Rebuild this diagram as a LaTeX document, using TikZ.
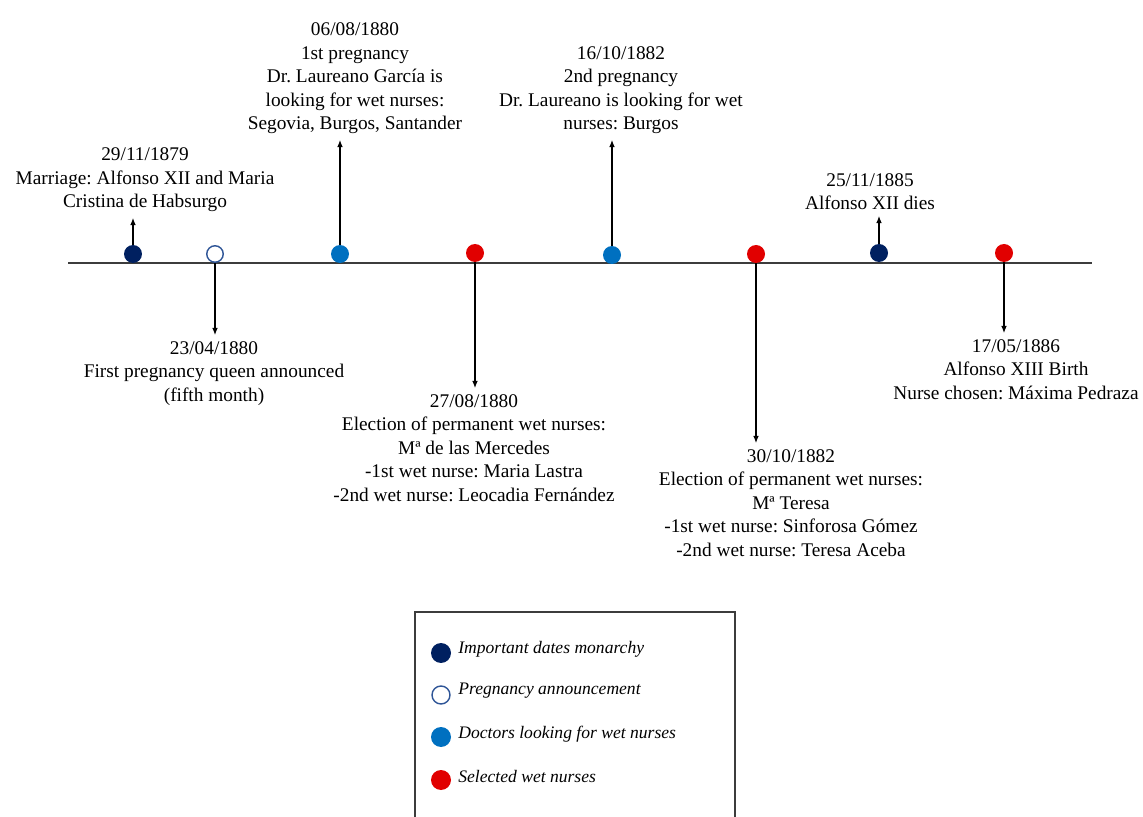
\documentclass[tikz,border=0pt]{standalone}
\usepackage{fontspec}
\setmainfont{Liberation Serif}
\usepackage{tikz}
\usetikzlibrary{arrows.meta}
\definecolor{navy}{RGB}{0,32,96}
\definecolor{docblue}{RGB}{0,112,192}
\definecolor{nursered}{RGB}{225,0,0}
\definecolor{ringblue}{RGB}{47,85,151}
\definecolor{axisgray}{RGB}{60,60,60}
\frenchspacing
\begin{document}
\begin{tikzpicture}[x=0.02cm,y=-0.02cm]
            \tikzstyle{monarchy}=[circle, fill=navy, inner sep=0pt, minimum size=3.6mm]
            \tikzstyle{announce}=[circle, draw=ringblue, line width=0.8pt, fill=white, inner sep=0pt, minimum size=3.3mm]
            \tikzstyle{doctor}=[circle, fill=docblue, inner sep=0pt, minimum size=3.6mm]
            \tikzstyle{selected}=[circle, fill=nursered, inner sep=0pt, minimum size=3.6mm]
            \tikzstyle{eventtext}=[align=center, inner sep=0pt, outer sep=3.5pt, font=\fontsize{11}{13.4}\selectfont]
            \tikzstyle{keytext}=[anchor=west, inner sep=0pt, font=\fontsize{10}{12}\selectfont\itshape]
            \tikzstyle{pointer}=[-{Latex[length=4pt,width=3.2pt]}, line width=0.6pt]
            \useasboundingbox (0,0) rectangle (1143,817);
            % time axis
            \coordinate (start) at (68,263);
            \coordinate (end) at (1092,263);
            \draw[axisgray, line width=0.9pt] (start) -- (end);
            % events on the axis
            \node[monarchy] (d1) at (133,254) {};
            \node[announce] (d2) at (215,254) {};
            \node[doctor] (d3) at (340,254) {};
            \node[selected] (d4) at (475,253) {};
            \node[doctor] (d5) at (612,255) {};
            \node[selected] (d6) at (756,254) {};
            \node[monarchy] (d7) at (879,253) {};
            \node[selected] (d8) at (1004,253) {};
            % texts
            \node[eventtext, anchor=south] (t1) at (145,218) {29/11/1879\\Marriage: Alfonso XII and Maria\\Cristina de Habsurgo};
            \node[eventtext, anchor=north] (t2) at (214,335) {23/04/1880\\First pregnancy queen announced\\(fifth month)};
            \node[eventtext, anchor=south] (t3) at (355,140) {06/08/1880\\1st pregnancy\\Dr. Laureano García is\\looking for wet nurses:\\Segovia, Burgos, Santander};
            \node[eventtext, anchor=north] (t4) at (474,388) {27/08/1880\\Election of permanent wet nurses:\\Mª de las Mercedes\\-1st wet nurse: Maria Lastra\\-2nd wet nurse: Leocadia Fernández};
            \node[eventtext, anchor=south] (t5) at (621,140) {16/10/1882\\2nd pregnancy\\Dr. Laureano is looking for wet\\nurses: Burgos};
            \node[eventtext, anchor=north] (t6) at (791,443) {30/10/1882\\Election of permanent wet nurses:\\Mª Teresa\\-1st wet nurse: Sinforosa Gómez\\-2nd wet nurse: Teresa Aceba};
            \node[eventtext, anchor=south] (t7) at (870,216) {25/11/1885\\Alfonso XII dies};
            \node[eventtext, anchor=north] (t8) at (1016,333) {17/05/1886\\Alfonso XIII Birth\\Nurse chosen: Máxima Pedraza};
            \draw[pointer] (d1.north) -- (d1.north |- t1.south);
            \draw[pointer] (d2.south) -- (d2.south |- t2.north);
            \draw[pointer] (d3.north) -- (d3.north |- t3.south);
            \draw[pointer] (d4.south) -- (d4.south |- t4.north);
            \draw[pointer] (d5.north) -- (d5.north |- t5.south);
            \draw[pointer] (d6.south) -- (d6.south |- t6.north);
            \draw[pointer] (d7.north) -- (d7.north |- t7.south);
            \draw[pointer] (d8.south) -- (d8.south |- t8.north);
            % legend
            \draw[axisgray, line width=1.1pt] (415,817) -- (415,612) -- (735,612) -- (735,817);
            \node[monarchy, minimum size=4mm] (k1) at (441,653) {};
            \node[announce, minimum size=3.6mm] (k2) at (441,695) {};
            \node[doctor, minimum size=4mm] (k3) at (441,737) {};
            \node[selected, minimum size=4mm] (k4) at (441,780) {};
            \node[keytext] (k1t) at (458,649) {Important dates monarchy};
            \node[keytext] (k2t) at (458,691) {Pregnancy announcement};
            \node[keytext] (k3t) at (458,734) {Doctors looking for wet nurses};
            \node[keytext] (k4t) at (458,777) {Selected wet nurses};
        \end{tikzpicture}
\end{document}
